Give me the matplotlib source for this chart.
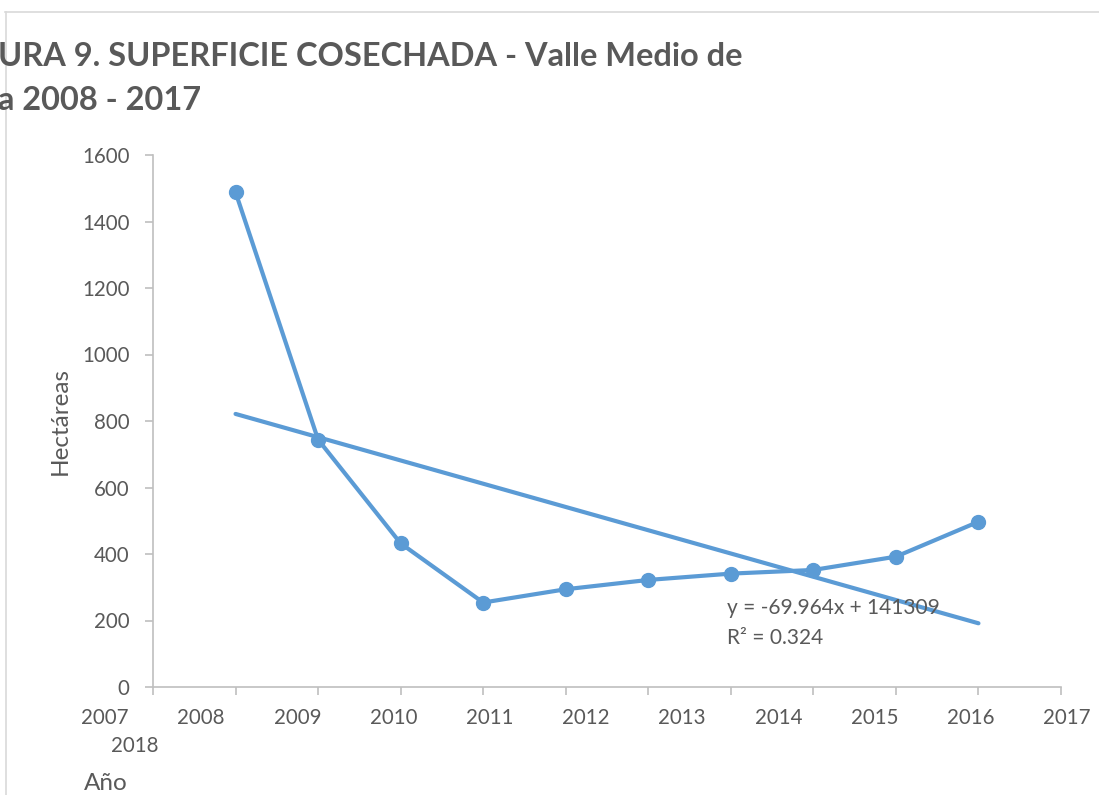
import matplotlib
matplotlib.use("Agg")
import matplotlib.pyplot as plt
from matplotlib.transforms import blended_transform_factory
from matplotlib.lines import Line2D

# ---- data ----
years = [2008, 2009, 2010, 2011, 2012, 2013, 2014, 2015, 2016, 2017]
hectareas = [1488, 744, 432, 254, 294, 322, 341, 352, 392, 497]
axis_labels = ["2007", "2008", "2009", "2010", "2011", "2012", "2013",
               "2014", "2015", "2016", "2017"]
extra_label = "2018"
slope = -69.964
intercept = 141309
r2 = 0.324
yticks = [0, 200, 400, 600, 800, 1000, 1200, 1400, 1600]

title_lines = ["URA 9. SUPERFICIE COSECHADA - Valle Medio de", "a 2008 - 2017"]

W, H = 1099, 795
BLUE = "#5B9BD5"
TXT = "#595959"
GRID = "#BFBFBF"
FONT = ["Lato", "DejaVu Sans"]
plt.rcParams["font.family"] = FONT

TICK_FS = 14.8
AXT_FS = 17.5
EQ_FS = 15
TITLE_FS = 23.4

fig = plt.figure(figsize=(W / 100, H / 100), dpi=100)

def fx(px):
    return px / W

def fy(py):
    return 1 - py / H

# chart border (like the office chart frame)
fig.add_artist(Line2D([fx(5), 1.0], [fy(12), fy(12)], color="#D9D9D9", lw=1.2))
fig.add_artist(Line2D([fx(6), fx(6)], [fy(12), 0.0], color="#D9D9D9", lw=1.2))

ax = fig.add_axes([fx(153), fy(687), fx(1061) - fx(153), fy(155) - fy(687)])

xpos = list(range(1, len(years) + 1))
ax.plot(xpos, hectareas, color=BLUE, lw=3, marker="o", markersize=10,
        solid_capstyle="round", zorder=3)

trend = [slope * y + intercept for y in years]
ax.plot([xpos[0], xpos[-1]], [trend[0], trend[-1]], color=BLUE, lw=3,
        solid_capstyle="round", zorder=2)

ax.set_xlim(0, len(axis_labels))
ax.set_ylim(0, 1600)
ax.set_yticks(yticks)
ax.set_yticklabels([str(v) for v in yticks])
ax.set_xticks(range(0, len(axis_labels) + 1))
ax.set_xticklabels([])

for s in ["top", "right"]:
    ax.spines[s].set_visible(False)
for s in ["left", "bottom"]:
    ax.spines[s].set_color(GRID)
    ax.spines[s].set_linewidth(1.2)

ax.tick_params(axis="y", direction="out", length=6, width=1.2, color=GRID,
               labelcolor=TXT, labelsize=TICK_FS, pad=11)
ax.tick_params(axis="x", direction="out", length=6, width=1.2, color=GRID)

# category labels (shifted as in the source)
trans = blended_transform_factory(ax.transData, ax.transAxes)
step_px = (1061 - 153) / len(axis_labels)
lab_start = (105 - 153) / step_px
lab_step = 96.2 / step_px
for i, lab in enumerate(axis_labels):
    ax.text(lab_start + i * lab_step, -31 / 532, lab, transform=trans,
            ha="center", va="center", fontsize=TICK_FS, color=TXT)
ax.text(lab_start + 30 / step_px, -59 / 532, extra_label, transform=trans,
        ha="center", va="center", fontsize=TICK_FS, color=TXT)

# axis titles
fig.text(fx(60), fy(421), "Hectáreas", rotation=90, ha="center", va="center",
         fontsize=AXT_FS, color=TXT)
fig.text(fx(84), fy(784), "Año", ha="left", va="center", fontsize=AXT_FS, color=TXT)

# trendline equation
fig.text(fx(727), fy(608), f"y = {slope}x + {intercept}", ha="left", va="center",
         fontsize=EQ_FS, color=TXT)
fig.text(fx(727), fy(638), f"R² = {r2}", ha="left", va="center",
         fontsize=EQ_FS, color=TXT)

# title (cut off on the left as in the source)
fig.text(fx(-2), fy(57), title_lines[0], ha="left", va="center", fontsize=TITLE_FS,
         fontweight="bold", color=TXT)
fig.text(fx(-2), fy(100), title_lines[1], ha="left", va="center", fontsize=TITLE_FS,
         fontweight="bold", color=TXT)

fig.savefig("out.png", dpi=100)
